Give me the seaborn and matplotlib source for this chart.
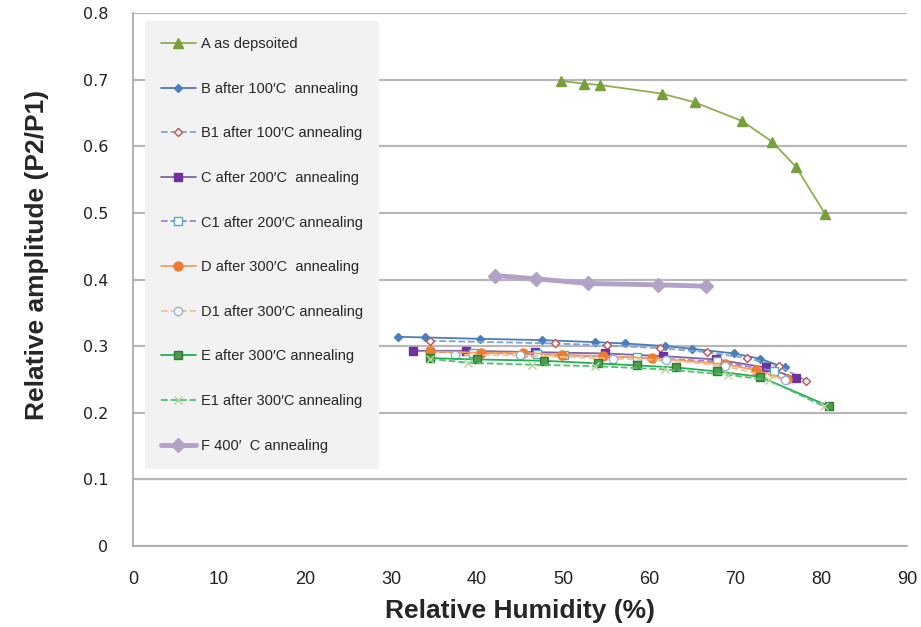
import pandas as pd
import numpy as np
import matplotlib
matplotlib.use('Agg')
import matplotlib.pyplot as plt
import seaborn as sns

# series data (x = relative humidity %, y = P2/P1)
a_x = [49.8, 52.4, 54.3, 61.5, 65.3, 70.8, 74.3, 77.1, 80.5]
a_y = [0.698, 0.694, 0.692, 0.679, 0.666, 0.638, 0.607, 0.569, 0.498]

b_x = [30.8, 34.0, 40.3, 47.6, 53.7, 57.2, 61.9, 65.0, 69.9, 72.9, 75.8]
b_y = [0.314, 0.313, 0.311, 0.309, 0.306, 0.304, 0.300, 0.296, 0.289, 0.281, 0.268]

b1_x = [34.5, 49.1, 55.1, 61.3, 66.7, 71.4, 75.1, 78.3]
b1_y = [0.308, 0.304, 0.301, 0.297, 0.291, 0.282, 0.270, 0.248]

c_x = [32.6, 38.7, 46.7, 54.9, 61.6, 67.8, 73.6, 77.1]
c_y = [0.293, 0.293, 0.291, 0.289, 0.285, 0.280, 0.268, 0.252]

c1_x = [34.5, 39.5, 47.0, 50.1, 58.6, 67.9, 74.5]
c1_y = [0.291, 0.290, 0.288, 0.286, 0.283, 0.277, 0.263]

d_x = [34.5, 40.5, 45.4, 49.9, 54.6, 60.3, 68.8, 72.4, 76.0]
d_y = [0.292, 0.290, 0.290, 0.287, 0.285, 0.282, 0.273, 0.264, 0.250]

d1_x = [37.4, 45.0, 55.8, 62.0, 68.8, 75.8]
d1_y = [0.287, 0.286, 0.281, 0.279, 0.270, 0.249]

e_x = [34.5, 40.0, 47.8, 54.1, 58.6, 63.1, 67.9, 72.9, 80.9]
e_y = [0.282, 0.280, 0.278, 0.274, 0.271, 0.268, 0.262, 0.254, 0.210]

e1_x = [34.5, 39.0, 46.4, 53.7, 61.9, 69.2, 73.9, 80.3]
e1_y = [0.281, 0.275, 0.272, 0.270, 0.265, 0.257, 0.249, 0.210]

f_x = [42.1, 46.9, 52.9, 61.0, 66.6]
f_y = [0.406, 0.401, 0.394, 0.392, 0.390]

labels = ['A as depsoited', 'B after 100\u2032C  annealing', 'B1 after 100\u2032C annealing',
          'C after 200\u2032C  annealing', 'C1 after 200\u2032C annealing', 'D after 300\u2032C  annealing',
          'D1 after 300\u2032C annealing', 'E after 300\u2032C annealing', 'E1 after 300\u2032C annealing',
          'F 400\u2032  C annealing']
xs = [a_x, b_x, b1_x, c_x, c1_x, d_x, d1_x, e_x, e1_x, f_x]
ys = [a_y, b_y, b1_y, c_y, c1_y, d_y, d1_y, e_y, e1_y, f_y]

STYLES = [
    dict(color='#8DB04F', marker='^', markersize=7, mfc='#77A03A', mec='#77A03A', ls='-', lw=1.3),
    dict(color='#4A7EBB', marker='D', markersize=4.5, mfc='#4A7EBB', mec='#4A7EBB', ls='-', lw=1.3),
    dict(color='#7FA1D4', marker='D', markersize=4.5, mfc='white', mec='#C0504D', ls='--', lw=1.3),
    dict(color='#8064A2', marker='s', markersize=6, mfc='#7030A0', mec='#7030A0', ls='-', lw=1.3),
    dict(color='#A47FD0', marker='s', markersize=5.5, mfc='white', mec='#4BACC6', ls='--', lw=1.3),
    dict(color='#F0A060', marker='o', markersize=6.5, mfc='#ED7D31', mec='#ED7D31', ls='-', lw=1.3),
    dict(color='#FAC090', marker='o', markersize=6, mfc='white', mec='#95B3D7', ls='--', lw=1.3),
    dict(color='#22B050', marker='s', markersize=5.5, mfc='#4E9A4E', mec='#2E7D32', ls='-', lw=1.3),
    dict(color='#50C070', marker='x', markersize=6, mfc='none', mec='#B5D39A', ls='--', lw=1.3),
    dict(color='#B3A2C7', marker='D', markersize=7, mfc='#B3A2C7', mec='#B3A2C7', ls='-', lw=3.5),
]

sns.set_style('white')
plt.rcParams['font.family'] = ['Liberation Sans', 'DejaVu Sans']

fig = plt.figure(figsize=(9.21, 6.27), dpi=100)
ax = fig.add_axes([133 / 921, 1 - 546 / 627, 774 / 921, 533 / 627])

for lab, x, y, st in zip(labels, xs, ys, STYLES):
    df = pd.DataFrame({'x': x, 'y': y})
    sns.lineplot(data=df, x='x', y='y', ax=ax, label=lab, sort=False,
                 color=st['color'], marker=st['marker'], markersize=st['markersize'],
                 markerfacecolor=st['mfc'], markeredgecolor=st['mec'], markeredgewidth=1.0,
                 linestyle=st['ls'], linewidth=st['lw'])

ax.set_xlim(0, 90)
ax.set_ylim(0, 0.8)
ax.set_xticks(np.arange(0, 91, 10))
ax.set_yticks(np.arange(0, 0.81, 0.1))
ax.set_yticklabels(['0'] + [f'{v:.1f}' for v in np.arange(0.1, 0.81, 0.1)],
                   family='DejaVu Sans', fontsize=11.5, color='#222222')
ax.tick_params(axis='x', labelsize=13, pad=18, length=0, colors='#222222')
ax.tick_params(axis='y', pad=18, length=0)
ax.grid(True, axis='y', color='#B8B8B8', linewidth=1.6)
ax.set_axisbelow(True)
for s in ['top', 'right']:
    ax.spines[s].set_visible(False)
for s in ['left', 'bottom']:
    ax.spines[s].set_color('#A6A6A6')
    ax.spines[s].set_linewidth(1.2)

ax.set_xlabel('Relative Humidity (%)', fontsize=19, fontweight='bold', labelpad=8)
ax.set_ylabel('Relative amplitude (P2/P1)', fontsize=19, fontweight='bold')
ax.yaxis.set_label_coords(-0.109, 0.546)

leg = ax.legend(loc='upper left', bbox_to_anchor=(0.015, 0.985), frameon=True, fancybox=False,
                facecolor='#F2F2F2', edgecolor='#F2F2F2', framealpha=1, fontsize=10.5,
                labelspacing=2.1, handlelength=2.4, handletextpad=0.35, borderpad=1.1,
                borderaxespad=0)
leg.get_frame().set_linewidth(0)

fig.savefig('out.png', dpi=100)
